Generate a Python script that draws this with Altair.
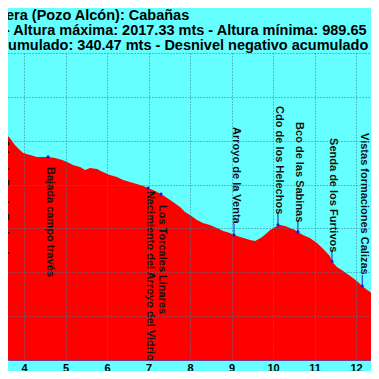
import altair as alt
import pandas as pd

# ---- profile (distance km, altitude m) ----
dist_km = [3.42, 3.54, 3.66, 3.78, 3.90, 3.98, 4.15, 4.31, 4.46, 4.58, 4.75, 4.92,
           5.04, 5.18, 5.35, 5.47, 5.59, 5.76, 5.90, 6.07, 6.24, 6.39, 6.55, 6.72,
           6.87, 6.99, 7.16, 7.30, 7.45, 7.59, 7.76, 7.88, 8.00, 8.17, 8.31, 8.48,
           8.65, 8.80, 8.96, 9.06, 9.21, 9.45, 9.57, 9.74, 9.88, 9.93, 10.05, 10.17,
           10.29, 10.41, 10.53, 10.60, 10.72, 10.89, 11.06, 11.21, 11.37, 11.42, 11.54,
           11.69, 11.86, 12.02, 12.15, 12.27, 12.41, 12.55]
elev_m = [1841, 1835, 1812, 1780, 1758, 1744, 1735, 1726, 1726, 1726, 1721, 1712,
          1703, 1689, 1680, 1666, 1676, 1671, 1657, 1644, 1634, 1621, 1612, 1603,
          1593, 1584, 1571, 1557, 1539, 1520, 1498, 1475, 1461, 1438, 1425, 1416,
          1402, 1388, 1379, 1370, 1361, 1347, 1343, 1361, 1384, 1393, 1406, 1416,
          1411, 1402, 1393, 1384, 1370, 1356, 1334, 1306, 1274, 1250, 1224,
          1206, 1183, 1160, 1137, 1119, 1101, 1096]

# ---- waypoints ----
wp_names = ["Cdo de Prado Redondo", "Bajada campo través",
            "Nacimiento del Arroyo del Vidrio", "Los Torcales Linares",
            "Arroyo de la Venta", "Cdo de los Helechos", "Bco de las Sabinas",
            "Senda de los Furtivos", "Vistas formaciones Calizas"]
wp_km = [3.47, 4.58, 6.99, 7.30, 9.06, 10.12, 10.60, 11.42, 12.15]
wp_elev = [1840, 1726, 1584, 1557, 1370, 1416, 1384, 1250, 1137]
wp_label_elev = [1808, 1680, 1571, 1507, 1862, 1958, 1885, 1812, 1835]
wp_above = [False, False, False, False, True, True, True, True, True]

x_ticks = [4, 5, 6, 7, 8, 9, 10, 11, 12]
y_grid = [800, 1000, 1200, 1400, 1600, 1800, 2000, 2200]

title_lines = ["lera (Pozo Alcón): Cabañas",
               "- Altura máxima: 2017.33 mts - Altura mínima: 989.65",
               "cumulado: 340.47 mts - Desnivel negativo acumulado"]

BG = "#66ffff"
GRID = "#3a7a9a"
BLUE = "#1a1ad0"
FONT = "Liberation Sans"

profile = pd.DataFrame({"km": dist_km, "m": elev_m})
wp = pd.DataFrame({"name": wp_names, "km": wp_km, "m": wp_elev,
                   "label_m": wp_label_elev, "above": wp_above})
wp["stub_m"] = wp["m"] + 50

xscale = alt.Scale(domain=[3.614, 12.361], nice=False, zero=False)
yscale = alt.Scale(domain=[800, 2200], nice=False, zero=False)

xaxis = alt.Axis(values=x_ticks, format="d", title=None, grid=True,
                 gridColor=GRID, gridDash=[1, 2], gridWidth=1, zindex=1,
                 tickSize=0, labelPadding=2, labelFontSize=11, labelFont=FONT,
                 labelFontWeight="bold", labelColor="#000000",
                 domain=True, domainColor="#7a3a8a", domainWidth=1,
                 labelOverlap=False, labelFlush=False)
yaxis = alt.Axis(values=y_grid, title=None, grid=True, gridColor=GRID,
                 gridDash=[1, 2], gridWidth=1, zindex=1, labels=False,
                 ticks=False, domain=False)

area = alt.Chart(profile).mark_area(color="#ff0000", clip=True, opacity=1).encode(
    x=alt.X("km:Q", scale=xscale, axis=xaxis),
    y=alt.Y("m:Q", scale=yscale, axis=yaxis),
)

stubs = alt.Chart(wp).transform_filter("datum.above").mark_rule(
    color=BLUE, strokeWidth=1).encode(
    x=alt.X("km:Q", scale=xscale),
    y=alt.Y("m:Q", scale=yscale),
    y2="stub_m:Q",
)

pts = alt.Chart(wp).mark_circle(color=BLUE, size=10, opacity=1).encode(
    x=alt.X("km:Q", scale=xscale),
    y=alt.Y("m:Q", scale=yscale),
)

labels = alt.Chart(wp).mark_text(angle=90, align="left", baseline="middle",
                                 fontSize=11, font=FONT, fontWeight="bold",
                                 color="#101010", dy=-1.5).encode(
    x=alt.X("km:Q", scale=xscale),
    y=alt.Y("label_m:Q", scale=yscale),
    text="name:N",
)

title_pos = [(-6, -33), (-3, -18), (-8, -3)]
titles = []
for line, (px, py) in zip(title_lines, title_pos):
    titles.append(
        alt.Chart(pd.DataFrame({"t": [line]})).mark_text(
            align="left", baseline="alphabetic", fontSize=14.5, font=FONT,
            fontWeight="bold", color="#000000").encode(
            text="t:N", x=alt.value(px), y=alt.value(py))
    )

chart = alt.layer(area, stubs, pts, labels, *titles).properties(
    width=363, height=307,
    autosize=alt.AutoSizeParams(type="none"),
    padding={"left": 0, "right": 0, "top": 45, "bottom": 11},
    background=BG,
).configure_view(stroke=None)

chart.save("out.html", embed_options={"renderer": "svg", "actions": False})
